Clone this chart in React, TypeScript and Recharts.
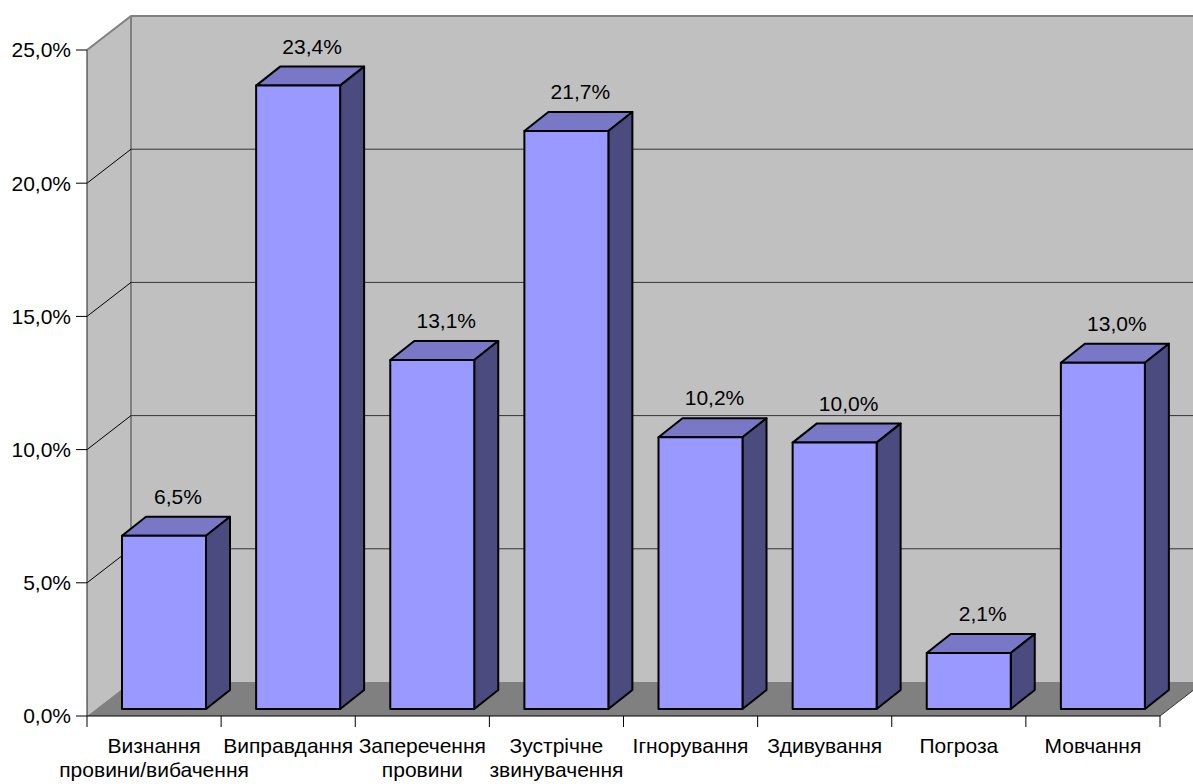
import { BarChart, Bar, XAxis, YAxis, ReferenceArea, ReferenceLine, LabelList } from 'recharts'

const categories = [
  'Визнання\nпровини/вибачення',
  'Виправдання',
  'Заперечення\nпровини',
  'Зустрічне\nзвинувачення',
  'Ігнорування',
  'Здивування',
  'Погроза',
  'Мовчання',
]
const shares = [6.5, 23.4, 13.1, 21.7, 10.2, 10.0, 2.1, 13.0]
const yTicks = [0, 5, 10, 15, 20, 25]

const data = categories.map((name, i) => ({ name, value: shares[i] }))

// depth of the walls, of the bars, and where the bars sit inside the depth
const WALL_DX = 44
const WALL_DY = 34
const BAR_DX = 24
const BAR_DY = 19
const BAR_SHIFT_X = 10
const BAR_SHIFT_Y = 7

const FONT = 'Liberation Sans, Arial, sans-serif'
const fmt = (v: number) => v.toFixed(1).replace('.', ',') + '%'

const Walls = (props: any) => {
  const { x, y, width: w, height: h } = props
  return (
    <g>
      <polygon
        points={`${x},${y} ${x + WALL_DX},${y - WALL_DY} ${x + WALL_DX},${y + h - WALL_DY} ${x},${y + h}`}
        fill="#c0c0c0"
      />
      <rect x={x + WALL_DX} y={y - WALL_DY} width={w} height={h} fill="#c0c0c0" />
      <polygon
        points={`${x},${y + h} ${x + WALL_DX},${y + h - WALL_DY} ${x + w + WALL_DX},${y + h - WALL_DY} ${x + w},${y + h}`}
        fill="#808080"
      />
      <polyline
        points={`${x},${y} ${x + WALL_DX},${y - WALL_DY} ${x + w + WALL_DX},${y - WALL_DY}`}
        fill="none"
        stroke="#808080"
        strokeWidth={2}
      />
      <line x1={x + WALL_DX} y1={y - WALL_DY} x2={x + WALL_DX} y2={y + h - WALL_DY} stroke="#808080" strokeWidth={2} />
      <line x1={x + w} y1={y + h} x2={x + w + WALL_DX} y2={y + h - WALL_DY} stroke="#333" strokeWidth={1} />
    </g>
  )
}

const GridLine = (props: any) => {
  const { x1, y1, x2 } = props
  return (
    <g>
      <line x1={x1} y1={y1} x2={x1 + WALL_DX} y2={y1 - WALL_DY} stroke="#000" strokeWidth={1} />
      <line x1={x1 + WALL_DX} y1={y1 - WALL_DY} x2={x2 + WALL_DX} y2={y1 - WALL_DY} stroke="#333" strokeWidth={1} />
    </g>
  )
}

const Bar3D = (props: any) => {
  const { x, y, width: w, height: h } = props
  const x0 = x + BAR_SHIFT_X
  const y0 = y - BAR_SHIFT_Y
  return (
    <g stroke="#000" strokeWidth={2} strokeLinejoin="round">
      <polygon
        points={`${x0},${y0} ${x0 + BAR_DX},${y0 - BAR_DY} ${x0 + w + BAR_DX},${y0 - BAR_DY} ${x0 + w},${y0}`}
        fill="#7878c6"
      />
      <polygon
        points={`${x0 + w},${y0} ${x0 + w + BAR_DX},${y0 - BAR_DY} ${x0 + w + BAR_DX},${y0 + h - BAR_DY} ${x0 + w},${y0 + h}`}
        fill="#4b4b80"
      />
      <rect x={x0} y={y0} width={w} height={h} fill="#9999ff" />
    </g>
  )
}

const ValueLabel = (props: any) => {
  const { x, y, width, value } = props
  return (
    <text
      x={x + BAR_SHIFT_X + width / 2 + BAR_DX / 2 + 2}
      y={y - BAR_SHIFT_Y - BAR_DY - 13}
      textAnchor="middle"
      fontSize={21}
      fontFamily={FONT}
      fill="#000"
    >
      {fmt(value)}
    </text>
  )
}

const CategoryTick = (props: any) => {
  const { x, y, payload, index } = props
  const off = payload.offset ?? 0
  const lines = String(payload.value).split('\n')
  return (
    <g>
      <line x1={x - off} y1={y} x2={x - off} y2={y + 11} stroke="#000" />
      {index === categories.length - 1 && <line x1={x + off} y1={y} x2={x + off} y2={y + 11} stroke="#000" />}
      <text x={x} y={y + 37} textAnchor="middle" fontSize={21} fontFamily={FONT} fill="#000">
        {lines.map((l, i) => (
          <tspan key={i} x={x} dy={i === 0 ? 0 : 24}>
            {l}
          </tspan>
        ))}
      </text>
    </g>
  )
}

export default function App() {
  return (
    <div style={{ position: 'absolute', left: 0, top: 0, background: '#fff' }}>
      <BarChart width={1193} height={784} data={data} margin={{ top: 50, right: 33, bottom: 38, left: 0 }}>
        <ReferenceArea y1={0} y2={25} shape={Walls} zIndex={-90} ifOverflow="visible" />
        {yTicks
          .filter((v) => v > 0 && v < 25)
          .map((v) => (
            <ReferenceLine key={v} y={v} shape={GridLine} zIndex={-80} />
          ))}
        <XAxis
          dataKey="name"
          interval={0}
          height={30}
          tickSize={0}
          tickMargin={0}
          tickLine={false}
          axisLine={{ stroke: '#000' }}
          tick={CategoryTick}
        />
        <YAxis
          width={87}
          domain={[0, 25]}
          ticks={yTicks}
          tickFormatter={fmt}
          tickSize={11}
          tickMargin={5}
          axisLine={{ stroke: '#222' }}
          tickLine={{ stroke: '#000' }}
          tick={{ fill: '#000', fontSize: 21, fontFamily: FONT }}
        />
        <Bar dataKey="value" barSize={84} shape={Bar3D} isAnimationActive={false}>
          <LabelList dataKey="value" content={ValueLabel} />
        </Bar>
      </BarChart>
    </div>
  )
}
